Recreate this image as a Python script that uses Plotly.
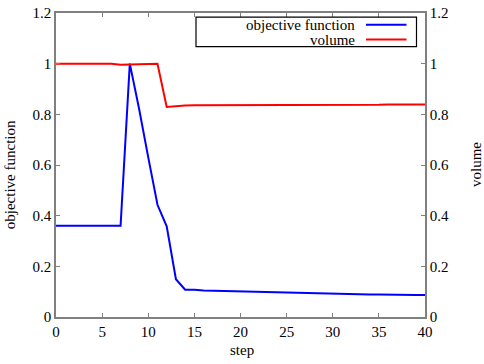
import plotly.graph_objects as go

steps = list(range(0, 41))
objective = [0.36, 0.36, 0.36, 0.36, 0.36, 0.36, 0.36, 0.36, 1.0, 0.823, 0.63, 0.443, 0.358, 0.149, 0.108,
             0.108, 0.105, 0.104, 0.103, 0.102, 0.101, 0.100, 0.099, 0.098, 0.097, 0.096, 0.095, 0.094,
             0.093, 0.092, 0.091, 0.091, 0.090, 0.090, 0.089, 0.089, 0.088, 0.088, 0.088, 0.087, 0.087]
volume = [1.0, 1.0, 1.0, 1.0, 1.0, 1.0, 1.0, 0.996, 0.997, 0.998, 0.999, 1.0, 0.829, 0.833, 0.835,
          0.836, 0.836, 0.836, 0.836, 0.837, 0.837, 0.837, 0.837, 0.837, 0.837, 0.837, 0.837, 0.837,
          0.838, 0.838, 0.838, 0.838, 0.838, 0.838, 0.838, 0.838, 0.839, 0.839, 0.839, 0.839, 0.839]
legend_names = ["objective function", "volume"]
colors = ["#0000ff", "#ff0000"]

W, H = 484, 364
L, R, T, B = 56, 59, 5, 47
pw, ph = W - L - R, H - T - B

font = dict(family="Liberation Serif", size=15, color="black")

fig = go.Figure()
fig.add_trace(go.Scatter(x=steps, y=objective, mode="lines", name=legend_names[0],
                         line=dict(color=colors[0], width=2), yaxis="y"))
fig.add_trace(go.Scatter(x=steps, y=volume, mode="lines", name=legend_names[1],
                         line=dict(color=colors[1], width=2), yaxis="y2"))

axis_common = dict(showline=True, linecolor="#808080", linewidth=1.5, ticks="inside",
                   ticklen=4, tickcolor="#808080", showgrid=False, zeroline=False,
                   tickfont=font, ticklabeloverflow="allow")

def px_x(p):
    return (p - L) / pw

def px_y(p):
    return 1 - (p - T) / ph

# manual legend (text right-aligned, samples on the right)
shapes = [dict(type="rect", xref="paper", yref="paper", x0=px_x(196), x1=px_x(416.5),
               y0=px_y(39.5), y1=px_y(9.3), line=dict(color="black", width=1.2),
               fillcolor="white", layer="above")]
annotations = []
rows_y = [17, 32.3]
for name, col, ry in zip(legend_names, colors, rows_y):
    shapes.append(dict(type="line", xref="paper", yref="paper", x0=px_x(366), x1=px_x(406.5),
                       y0=px_y(ry), y1=px_y(ry), line=dict(color=col, width=2), layer="above"))
    annotations.append(dict(text=name, xref="paper", yref="paper", x=px_x(357), y=px_y(ry),
                            xanchor="right", yanchor="middle", showarrow=False, font=font))

annotations += [
    dict(text="objective function", xref="paper", yref="paper", x=px_x(9.5), y=px_y(171),
         textangle=-90, showarrow=False, xanchor="center", yanchor="middle", font=font),
    dict(text="volume", xref="paper", yref="paper", x=px_x(476), y=px_y(161),
         textangle=-90, showarrow=False, xanchor="center", yanchor="middle", font=font),
    dict(text="step", xref="paper", yref="paper", x=px_x(241.5), y=px_y(351),
         showarrow=False, xanchor="center", yanchor="middle", font=font),
]

fig.update_layout(
    width=W, height=H,
    margin=dict(l=L, r=R, t=T, b=B),
    paper_bgcolor="white", plot_bgcolor="white",
    showlegend=False,
    font=font,
    xaxis=dict(range=[0, 40], dtick=5, mirror="ticks", **axis_common),
    yaxis=dict(range=[0, 1.2], dtick=0.2, mirror=True, **axis_common),
    yaxis2=dict(range=[0, 1.2], dtick=0.2, overlaying="y", side="right", **axis_common),
    shapes=shapes,
    annotations=annotations,
)

fig.write_html("out.html", config={"displayModeBar": False},
               post_script="document.body.style.margin='0';document.body.style.overflow='hidden';")
